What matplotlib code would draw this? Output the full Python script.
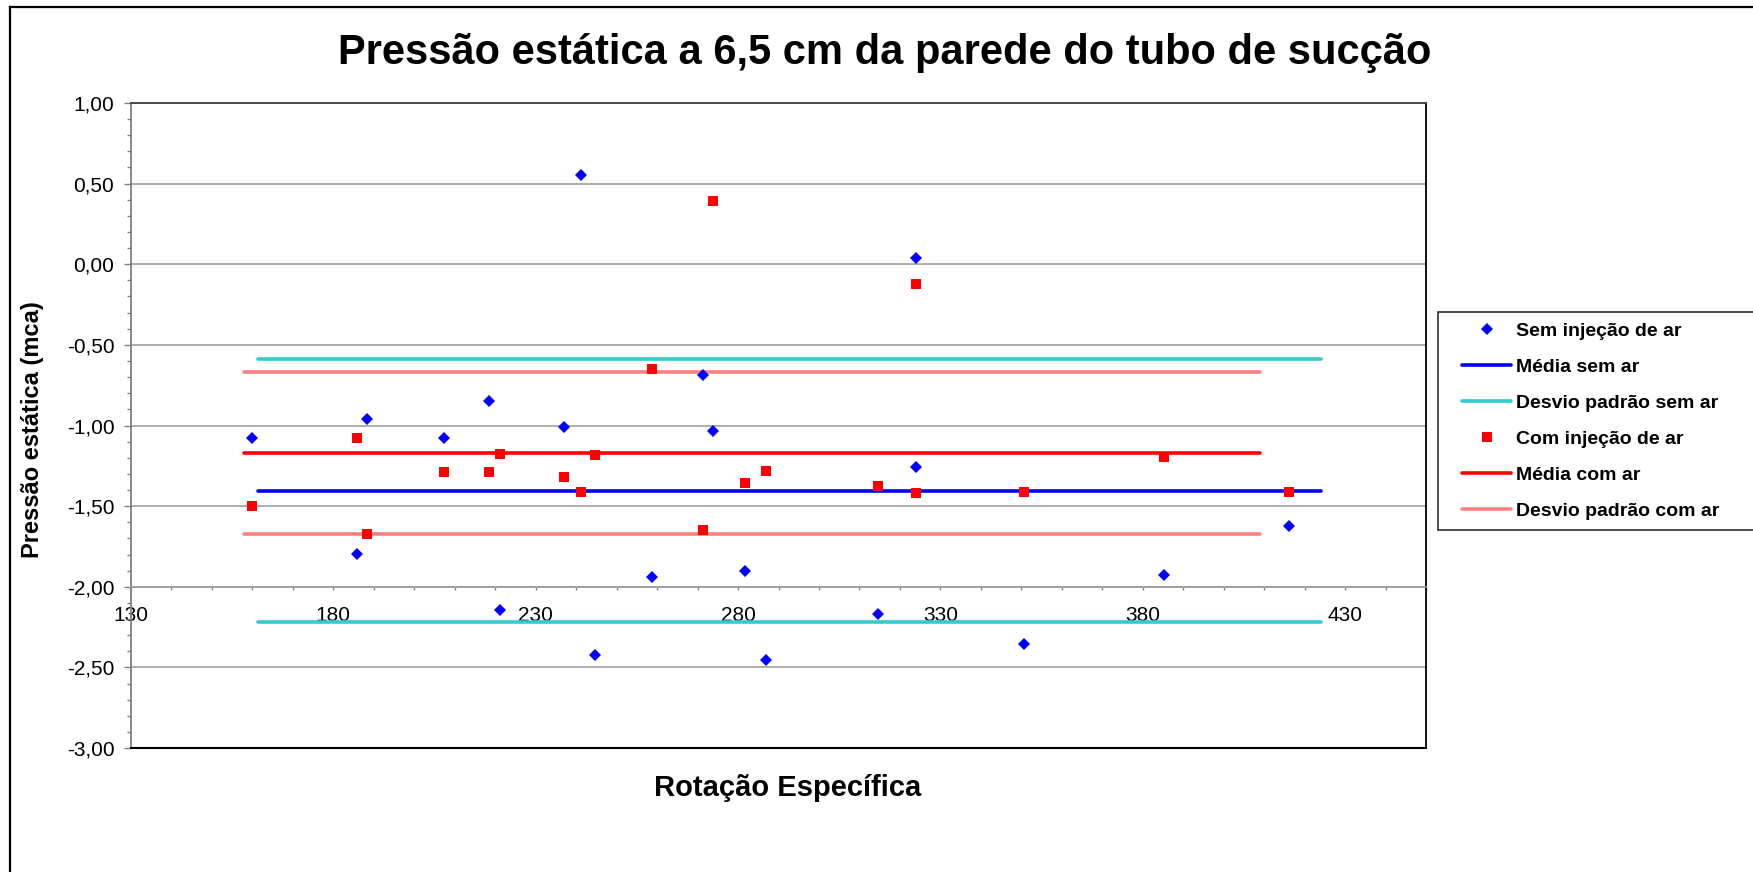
import matplotlib
matplotlib.use('Agg')
import matplotlib.pyplot as plt
import numpy as np
from matplotlib.lines import Line2D
from matplotlib.legend_handler import HandlerLine2D
from matplotlib.ticker import FuncFormatter

plt.rcParams['font.family'] = ['Liberation Sans', 'DejaVu Sans']

# ---------------- data ----------------
rotacao = [159.8, 185.8, 188.2, 207.3, 218.5, 221.2, 236.9, 241.2, 244.7, 258.7,
           271.4, 273.7, 281.8, 286.9, 314.5, 324.0, 324.0, 350.6, 385.3, 416.2]
sem_injecao = [-1.077, -1.798, -0.961, -1.079, -0.845, -2.143, -1.009, 0.554, -2.422, -1.940,
               -0.684, -1.035, -1.905, -2.453, -2.166, -1.257, 0.039, -2.352, -1.928, -1.626]
com_injecao = [-1.498, -1.080, -1.674, -1.288, -1.288, -1.178, -1.322, -1.411, -1.184, -0.647,
               -1.649, 0.395, -1.358, -1.281, -1.378, -1.418, -0.124, -1.414, -1.197, -1.415]

media_sem_ar = -1.405
desvio_sem_ar = [-0.587, -2.221]      # mean +/- std
faixa_sem_ar = [161.5, 424.0]         # x-extent of the sem-ar reference lines
media_com_ar = -1.170
desvio_com_ar = [-0.670, -1.672]
faixa_com_ar = [158.0, 409.0]

titulo = 'Pressão estática a 6,5 cm da parede do tubo de sucção'
rotulo_x = 'Rotação Específica'
rotulo_y = 'Pressão estática (mca)'
legendas = ['Sem injeção de ar', 'Média sem ar', 'Desvio padrão sem ar',
            'Com injeção de ar', 'Média com ar', 'Desvio padrão com ar']
x_ticks = [130, 180, 230, 280, 330, 380, 430]
y_ticks = [-3.0, -2.5, -2.0, -1.5, -1.0, -0.5, 0.0, 0.5, 1.0]

# ---------------- figure ----------------
W, H = 1753, 872
fig = plt.figure(figsize=(W / 100, H / 100), dpi=100)
ax = fig.add_axes([131 / W, 1 - 748 / H, 1295 / W, 645 / H])

azul, ciano, vermelho, salmao = '#0000FF', '#33CCCC', '#FF0000', '#FF8080'
lw = 2.6

h_med_sem, = ax.plot(faixa_sem_ar, [media_sem_ar] * 2, color=azul, lw=lw,
                     solid_capstyle='round', zorder=3)
h_dp_sem, = ax.plot(faixa_sem_ar, [desvio_sem_ar[0]] * 2, color=ciano, lw=lw,
                    solid_capstyle='round', zorder=3)
ax.plot(faixa_sem_ar, [desvio_sem_ar[1]] * 2, color=ciano, lw=lw,
        solid_capstyle='round', zorder=3)
h_med_com, = ax.plot(faixa_com_ar, [media_com_ar] * 2, color=vermelho, lw=lw,
                     solid_capstyle='round', zorder=3)
h_dp_com, = ax.plot(faixa_com_ar, [desvio_com_ar[0]] * 2, color=salmao, lw=lw,
                    solid_capstyle='round', zorder=3)
ax.plot(faixa_com_ar, [desvio_com_ar[1]] * 2, color=salmao, lw=lw,
        solid_capstyle='round', zorder=3)

h_sem, = ax.plot(rotacao, sem_injecao, linestyle='none', marker='D', markersize=5.8,
                 color=azul, markeredgewidth=0, zorder=5)
h_com, = ax.plot(rotacao, com_injecao, linestyle='none', marker='s', markersize=7.6,
                 color=vermelho, markeredgewidth=0, zorder=5)

# axes limits and ticks
ax.set_xlim(130, 450)
ax.set_ylim(-3, 1)
ax.set_xticks(x_ticks)
ax.set_xticks(np.arange(130, 451, 10), minor=True)
ax.set_yticks(y_ticks)
ax.set_yticks(np.arange(-3.0, 1.001, 0.1), minor=True)
ax.yaxis.set_major_formatter(FuncFormatter(lambda v, _: f'{v:.2f}'.replace('.', ',').replace('-0,00', '0,00')))
ax.xaxis.set_major_formatter(FuncFormatter(lambda v, _: f'{v:.0f}'))

ax.tick_params(axis='y', which='major', length=5, width=1, color='#808080',
               labelsize=15, pad=7)
ax.tick_params(axis='y', which='minor', length=3, width=1, color='#808080')
ax.tick_params(axis='x', which='both', length=2.5, width=1, color='#808080',
               direction='out', labelsize=15, pad=11)

ax.yaxis.grid(True, which='major', color='#a0a0a0', lw=1.2, zorder=0)
ax.set_axisbelow(True)

ax.spines['bottom'].set_position(('data', -2))
ax.spines['bottom'].set_color('#a0a0a0')
ax.spines['bottom'].set_linewidth(1.2)
ax.spines['left'].set_color('#808080')
ax.spines['left'].set_linewidth(1.3)
ax.spines['top'].set_color('#404040')
ax.spines['top'].set_linewidth(1.3)
ax.spines['right'].set_color('#000000')
ax.spines['right'].set_linewidth(1.3)
ax.plot([0, 1], [0, 0], transform=ax.transAxes, color='black', lw=1.5,
        clip_on=False, zorder=6)

# texts
fig.text(885 / W, 1 - 53 / H, titulo, ha='center', va='center', fontsize=30,
         fontweight='bold')
fig.text(788 / W, 1 - 788 / H, rotulo_x, ha='center', va='center', fontsize=21,
         fontweight='bold')
fig.text(33 / W, 1 - 430 / H, rotulo_y, ha='center', va='center', fontsize=17,
         fontweight='bold', rotation=90)

# legend
leg = ax.legend([h_sem, h_med_sem, h_dp_sem, h_com, h_med_com, h_dp_com], legendas,
                loc='upper left',
                bbox_to_anchor=(1438 / W, 1 - 527 / H, (1775 - 1438) / W, (527 - 312) / H),
                bbox_transform=fig.transFigure, mode='expand', borderaxespad=0,
                frameon=True, fancybox=False, framealpha=1, edgecolor='#303030',
                prop={'weight': 'bold', 'size': 14}, numpoints=1,
                handlelength=3.22, handletextpad=0.26, labelspacing=0.94, borderpad=0.54,
                handler_map={Line2D: HandlerLine2D(xpad=0.7)})
leg.get_frame().set_linewidth(1.2)

# chart-area border (left and top visible)
fig.add_artist(Line2D([10 / W, 10 / W], [0, 1 - 7 / H], transform=fig.transFigure,
                      color='black', lw=1.6))
fig.add_artist(Line2D([10 / W, 1], [1 - 7 / H, 1 - 7 / H], transform=fig.transFigure,
                      color='black', lw=1.6))

fig.savefig('out.png', dpi=100)
